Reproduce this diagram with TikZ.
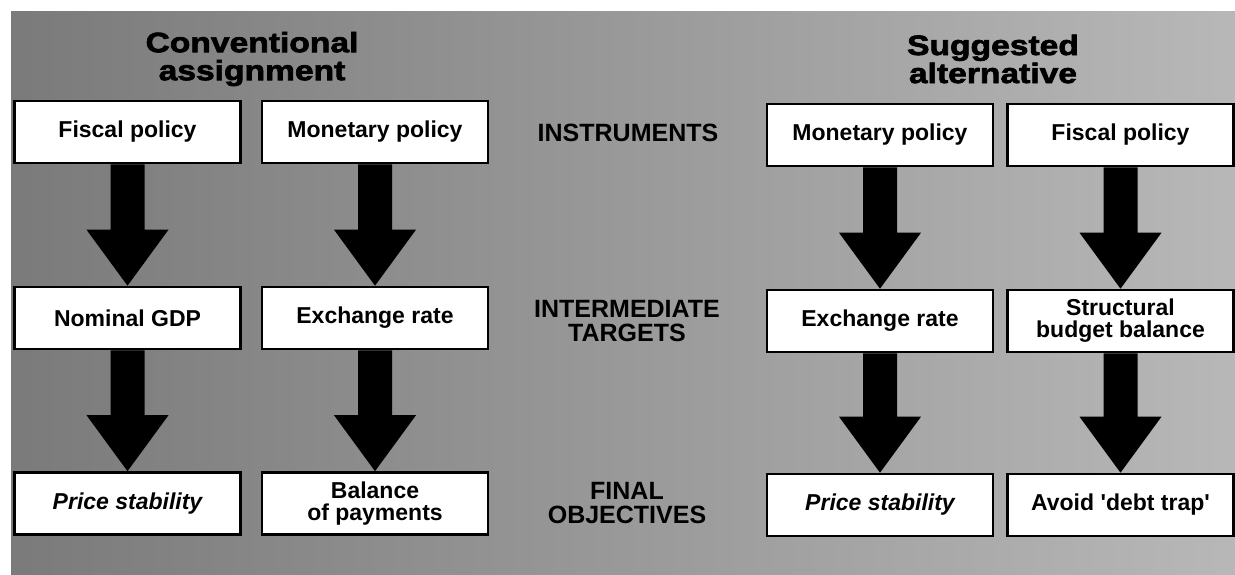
\documentclass[tikz,border=0pt]{standalone}
\usepackage{fontspec}
\setmainfont{Liberation Sans}
\newfontfamily\headfont[FakeBold=2.5,FakeStretch=1.2]{Liberation Sans Bold}
\usetikzlibrary{calc}
\newcommand{\flowarrow}[2]{%
  \fill[black]
    ($(#1.south)+(-17,0)$) -- ($(#2.north)+(-17,-56)$) -- ($(#2.north)+(-41,-56)$)
    -- (#2.north) -- ($(#2.north)+(41,-56)$) -- ($(#2.north)+(17,-56)$)
    -- ($(#1.south)+(17,0)$) -- cycle;}
\begin{document}
\begin{tikzpicture}[x=1pt,y=-1pt,
  box/.style={draw=black, line width=2.6pt, fill=white, minimum width=226pt,
    minimum height=62pt, inner sep=0pt, align=center,
    font=\fontsize{23}{22}\selectfont\bfseries},
  lbl/.style={align=center, inner sep=0pt, text=black,
    font=\fontsize{25}{24}\selectfont\bfseries},
  head/.style={align=center, inner sep=0pt, text=black,
    font=\fontsize{28}{28}\headfont}]
\useasboundingbox (0,0) rectangle (1235,575);
\shade[left color=black!52, right color=black!28] (11,12) rectangle (1235,575);

% headings
\node[head] (hL) at (252,59) {Conventional\\assignment};
\node[head] (hR) at (993,59) {Suggested\\alternative};

% row labels
\node[lbl] (lI) at (628,133) {INSTRUMENTS};
\node[lbl] (lT) at (627,321) {INTERMEDIATE\\TARGETS};
\node[lbl] (lO) at (627,503.5) {FINAL\\OBJECTIVES};

% left column pair
\node[box] (a1) at (127.5,132) {Fiscal policy};
\node[box] (a2) at (127.5,318) {Nominal GDP};
\node[box] (a3) at (127.5,503.5) {\itshape Price stability};
\node[box] (b1) at (375,132) {Monetary policy};
\node[box] (b2) at (375,318) {Exchange rate};
\node[box] (b3) at (375,503.5) {Balance\\of payments};

% right column pair
\node[box] (c1) at (880,135) {Monetary policy};
\node[box] (c2) at (880,321) {Exchange rate};
\node[box] (c3) at (880,505) {\itshape Price stability};
\node[box] (d1) at (1120.5,135) {Fiscal policy};
\node[box] (d2) at (1120.5,321) {Structural\\budget balance};
\node[box] (d3) at (1120.5,505) {Avoid \textquotesingle debt trap\textquotesingle};

% arrows
\flowarrow{a1}{a2}
\flowarrow{a2}{a3}
\flowarrow{b1}{b2}
\flowarrow{b2}{b3}
\flowarrow{c1}{c2}
\flowarrow{c2}{c3}
\flowarrow{d1}{d2}
\flowarrow{d2}{d3}
\end{tikzpicture}
\end{document}
